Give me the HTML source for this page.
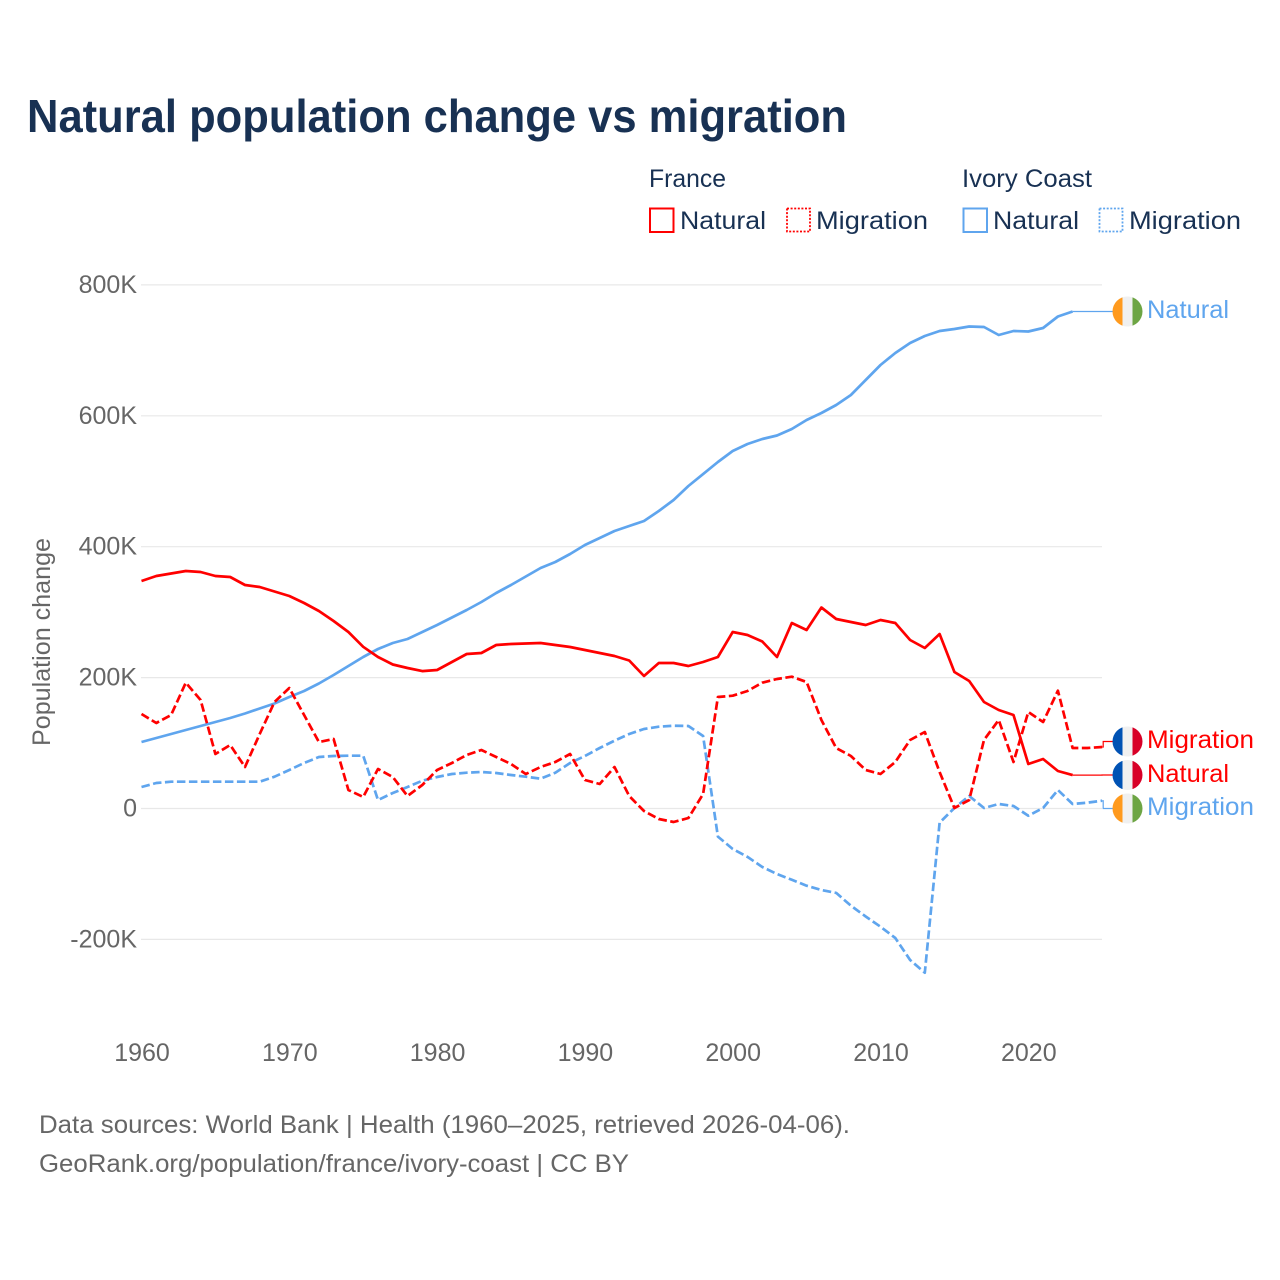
<!DOCTYPE html>
<html lang="en">
<head>
<meta charset="utf-8">
<title>Natural population change vs migration</title>
<style>
html,body{margin:0;padding:0;background:#fff;}
svg{display:block;}
text{font-family:"Liberation Sans",sans-serif;}
</style>
</head>
<body>
<svg id="chart" xmlns="http://www.w3.org/2000/svg" width="1280" height="1280" viewBox="0 0 1280 1280">
  <rect x="0" y="0" width="1280" height="1280" fill="#ffffff"/>
  <text x="27" y="132" font-size="46" font-weight="700" fill="#183153" textLength="820" lengthAdjust="spacingAndGlyphs">Natural population change vs migration</text>

  <g>
    <text x="649" y="187" font-size="25" fill="#183153" textLength="77" lengthAdjust="spacingAndGlyphs">France</text>
    <rect x="650" y="208.5" width="23.5" height="23.5" fill="none" stroke="#ff0000" stroke-width="2"/>
    <text x="680" y="229" font-size="25" fill="#183153" textLength="86" lengthAdjust="spacingAndGlyphs">Natural</text>
    <rect x="787" y="208.5" width="23" height="23" fill="none" stroke="#ff0000" stroke-width="1.8" stroke-dasharray="2 1.6"/>
    <text x="816" y="229" font-size="25" fill="#183153" textLength="112" lengthAdjust="spacingAndGlyphs">Migration</text>
    <text x="962" y="187" font-size="25" fill="#183153" textLength="130" lengthAdjust="spacingAndGlyphs">Ivory Coast</text>
    <rect x="963.5" y="208.5" width="23.5" height="23.5" fill="none" stroke="#5fa5ee" stroke-width="2"/>
    <text x="993" y="229" font-size="25" fill="#183153" textLength="86" lengthAdjust="spacingAndGlyphs">Natural</text>
    <rect x="1099.5" y="208.5" width="23" height="23" fill="none" stroke="#5fa5ee" stroke-width="1.8" stroke-dasharray="2 1.6"/>
    <text x="1129" y="229" font-size="25" fill="#183153" textLength="112" lengthAdjust="spacingAndGlyphs">Migration</text>
  </g>

  <g id="grid"></g>
  <g id="yticks"></g>
  <g id="xticks"></g>
  <text transform="translate(50,642) rotate(-90)" text-anchor="middle" font-size="25" fill="#666666" textLength="208" lengthAdjust="spacingAndGlyphs">Population change</text>

  <g id="connectors"></g>
  <g id="lines"></g>

  <defs>
    <clipPath id="flag-clip"><circle cx="0" cy="0" r="15"/></clipPath>
    <g id="flag-ci">
      <rect x="-15" y="-15" width="10" height="30" fill="#ff9a1e"/>
      <rect x="-5" y="-15" width="10" height="30" fill="#f0f0f0"/>
      <rect x="5" y="-15" width="10" height="30" fill="#6da544"/>
    </g>
    <g id="flag-fr">
      <rect x="-15" y="-15" width="10" height="30" fill="#0052b4"/>
      <rect x="-5" y="-15" width="10" height="30" fill="#f0f0f0"/>
      <rect x="5" y="-15" width="10" height="30" fill="#d80027"/>
    </g>
  </defs>

  <g>
    <g transform="translate(1127.5,311.5)" clip-path="url(#flag-clip)"><use href="#flag-ci"/></g>
    <text x="1147" y="318" font-size="25" fill="#5fa5ee" textLength="82" lengthAdjust="spacingAndGlyphs">Natural</text>
    <g transform="translate(1127.5,741.5)" clip-path="url(#flag-clip)"><use href="#flag-fr"/></g>
    <text x="1147" y="748" font-size="25" fill="#ff0000" textLength="107" lengthAdjust="spacingAndGlyphs">Migration</text>
    <g transform="translate(1127.5,775)" clip-path="url(#flag-clip)"><use href="#flag-fr"/></g>
    <text x="1147" y="782" font-size="25" fill="#ff0000" textLength="82" lengthAdjust="spacingAndGlyphs">Natural</text>
    <g transform="translate(1127.5,808.5)" clip-path="url(#flag-clip)"><use href="#flag-ci"/></g>
    <text x="1147" y="815" font-size="25" fill="#5fa5ee" textLength="107" lengthAdjust="spacingAndGlyphs">Migration</text>
  </g>

  <text x="39" y="1133" font-size="25" fill="#666666" textLength="811" lengthAdjust="spacingAndGlyphs">Data sources: World Bank | Health (1960–2025, retrieved 2026-04-06).</text>
  <text x="39" y="1172" font-size="25" fill="#666666" textLength="590" lengthAdjust="spacingAndGlyphs">GeoRank.org/population/france/ivory-coast | CC BY</text>
</svg>

<script>
const startYear = 1960;
const xTickYears = [1960, 1970, 1980, 1990, 2000, 2010, 2020];
const yTickValues = [800, 600, 400, 200, 0, -200];
const yTickLabels = ['800K', '600K', '400K', '200K', '0', '-200K'];

const ivoryNatural = [101.6,107.7,113.8,119.9,126,132.2,138.3,145.1,152.8,160.4,170.4,179.5,191,204,217.7,231.5,243.7,252.9,259,269.7,280.4,291.8,303.3,315.5,329.3,341.5,354.5,367.5,376.6,388.9,402.6,413.3,424,431.6,439.3,454.5,471.4,492.7,511,529.4,546.2,556.9,564.6,569.9,579.8,593.6,604.3,616.5,631.8,654.7,677.6,696,711.2,721.9,729.5,732.6,736.4,735.7,723.4,729.5,728.8,734.2,751.7,759.4];
const franceNatural = [347.6,355.2,359,362.9,361.4,355.2,353.7,341.5,338.4,331.6,324.7,314,301.8,286.5,269.7,247,231.5,220,214.7,210,211.6,223.8,236,237.6,249.8,251.3,252.1,252.9,249.8,246.8,242.2,237.6,233,226.1,202.4,222.3,222.3,217.7,223.8,231.5,269.7,265.1,255.2,231.5,283.4,272.7,307.1,289.5,285,280.4,288,283.4,257.4,245.2,266.6,208.6,194.8,162.7,150.5,142.9,68,75.6,57.3,51];
const franceMigration = [144.4,130.6,142.9,192.2,165.8,83.3,97,63.4,113.8,162.7,184.1,142.9,101.6,106.2,28.3,17.6,60.4,48.1,19.1,35.9,58.8,69.5,81.7,89.4,78.7,68,52.7,63.4,71,83.3,43.5,37.4,63.4,19.1,-3.8,-16,-20.6,-14.5,22.2,170.4,172.3,179.5,192.2,197.9,201.4,193.3,135.2,92.4,80.2,58.8,52.7,71,104.7,116.9,55.8,0.8,13,104.7,135.2,71,147.4,132.2,180,92.4,92.4,94];
const ivoryMigration = [32.8,39,41,41,41,41,41,41,41,48.6,58.8,69.5,78.7,80.2,80.7,80.7,13,23.7,32.8,42.5,48.1,52.7,54.7,55.8,54.2,51.2,48.6,45.5,54.7,69.5,80.2,92.4,103.6,113.8,121.5,125,126.5,126,110.8,-43,-61.9,-74,-89.4,-100,-109,-118,-124.5,-129,-148.5,-165,-180.6,-197.9,-231.5,-250.9,-21.7,0.8,19.1,0.8,6.9,3.8,-11,0.8,28.3,6.9,8.9,11.9];

const NS = 'http://www.w3.org/2000/svg';
const BLUE = '#5fa5ee';
const RED = '#ff0000';

function xScale(year) { return 141.5 + (year - 1960) * 14.78; }
function yScale(value) { return 808.5 - value * 0.6545; }

function pointsFor(values) {
  return values.map(function (v, i) {
    return xScale(startYear + i).toFixed(1) + ',' + yScale(v).toFixed(1);
  }).join(' ');
}

const grid = document.getElementById('grid');
const yticks = document.getElementById('yticks');
const xticks = document.getElementById('xticks');
const lines = document.getElementById('lines');
const connectors = document.getElementById('connectors');

yTickValues.forEach(function (v, i) {
  const l = document.createElementNS(NS, 'line');
  
  
  l.setAttribute('x1', 141);
  l.setAttribute('x2', 1102);
  l.setAttribute('y1', yScale(v));
  l.setAttribute('y2', yScale(v));
  l.setAttribute('stroke', '#e8e8e8');
  l.setAttribute('stroke-width', '1.2');
  grid.appendChild(l);

  const t = document.createElementNS(NS, 'text');
  
  
  t.setAttribute('x', 137);
  t.setAttribute('y', yScale(v) + 8);
  t.setAttribute('text-anchor', 'end');
  t.setAttribute('font-size', '25');
  t.setAttribute('fill', '#666666');
  t.textContent = yTickLabels[i];
  yticks.appendChild(t);
});

xTickYears.forEach(function (year) {
  const t = document.createElementNS(NS, 'text');
  
  
  t.setAttribute('x', xScale(year) + 0.5);
  t.setAttribute('y', 1061);
  t.setAttribute('text-anchor', 'middle');
  t.setAttribute('font-size', '25');
  t.setAttribute('fill', '#666666');
  t.textContent = String(year);
  xticks.appendChild(t);
});

function drawLine(values, color, dashed, name) {
  const p = document.createElementNS(NS, 'polyline');
  
  
  p.setAttribute('points', pointsFor(values));
  p.setAttribute('fill', 'none');
  p.setAttribute('stroke', color);
  p.setAttribute('stroke-width', '2.7');
  p.setAttribute('stroke-linejoin', 'round');
  if (dashed) {
    p.setAttribute('stroke-dasharray', '8.5 3.5');
  }
  lines.appendChild(p);
}

function drawConnector(values, color, labelY, name) {
  const lastX = xScale(startYear + values.length - 1);
  const lastY = yScale(values[values.length - 1]);
  const midX = Math.max(lastX + 1, 1102);
  const p = document.createElementNS(NS, 'polyline');
  
  
  p.setAttribute('points', lastX + ',' + lastY + ' ' + midX + ',' + lastY + ' ' + midX + ',' + labelY + ' 1113,' + labelY);
  p.setAttribute('fill', 'none');
  p.setAttribute('stroke', color);
  p.setAttribute('stroke-width', '1.2');
  connectors.appendChild(p);
}

drawConnector(ivoryNatural, BLUE, 311.5, 'connector-ivory-coast-natural');
drawConnector(franceMigration, RED, 741.5, 'connector-france-migration');
drawConnector(franceNatural, RED, 775, 'connector-france-natural');
drawConnector(ivoryMigration, BLUE, 808.5, 'connector-ivory-coast-migration');

drawLine(ivoryNatural, BLUE, false, 'line-ivory-coast-natural');
drawLine(ivoryMigration, BLUE, true, 'line-ivory-coast-migration');
drawLine(franceNatural, RED, false, 'line-france-natural');
drawLine(franceMigration, RED, true, 'line-france-migration');
</script>
</body>
</html>
